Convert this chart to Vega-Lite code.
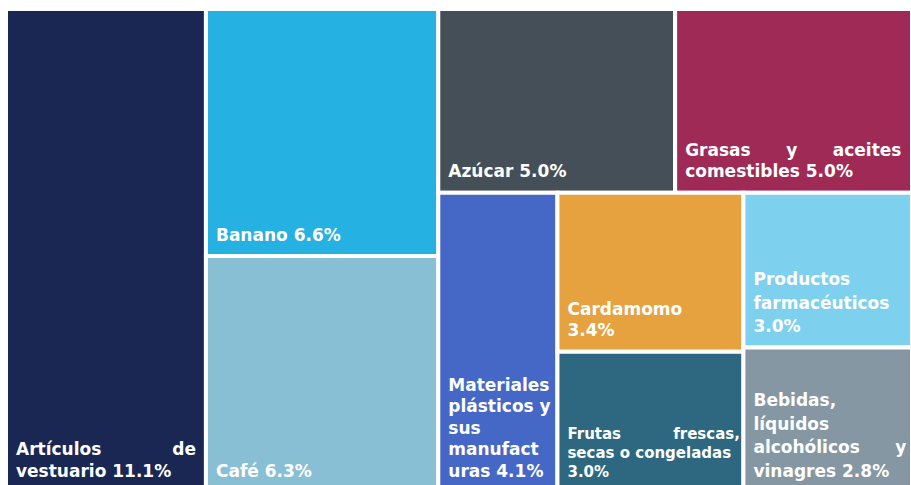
{
  "$schema": "https://vega.github.io/schema/vega-lite/v6.json",
  "width": 906,
  "height": 483,
  "autosize": {"type": "none"},
  "padding": {"left": 6, "top": 9, "right": 0, "bottom": 0},
  "background": "white",
  "config": {"view": {"stroke": null}, "text": {"align": "left", "baseline": "bottom", "dx": 10, "font": "DejaVu Sans", "fontWeight": "bold", "fontSize": 17, "lineHeight": 21.5, "lineBreak": "\n", "color": "white"}},
  "data": {
    "values": [
      {"name": "Artículos de vestuario", "label": "Artículos\u00a0\u00a0\u00a0\u00a0\u00a0\u00a0\u00a0\u00a0\u00a0\u00a0\u00a0\u00a0de\nvestuario 11.1%", "value": 11.1, "l1": 1, "l2": 1, "l3": 1, "l4": 1},
      {"name": "Banano", "label": "Banano 6.6%", "value": 6.6, "l1": 2, "l2": 1, "l3": 1, "l4": 1},
      {"name": "Café", "label": "Café 6.3%", "value": 6.3, "l1": 2, "l2": 2, "l3": 1, "l4": 1},
      {"name": "Azúcar", "label": "Azúcar 5.0%", "value": 5.0, "l1": 3, "l2": 1, "l3": 1, "l4": 1},
      {"name": "Grasas y aceites comestibles", "label": "Grasas\u00a0\u00a0\u00a0\u00a0\u00a0\u00a0y\u00a0\u00a0\u00a0\u00a0\u00a0\u00a0aceites\ncomestibles 5.0%", "value": 5.0, "l1": 3, "l2": 1, "l3": 2, "l4": 1},
      {"name": "Materiales plásticos y sus manufacturas", "label": "Materiales\nplásticos y\nsus\nmanufact\nuras 4.1%", "value": 4.1, "l1": 3, "l2": 2, "l3": 1, "l4": 1},
      {"name": "Cardamomo", "label": "Cardamomo\n3.4%", "value": 3.4, "l1": 3, "l2": 2, "l3": 2, "l4": 1},
      {"name": "Frutas frescas, secas o congeladas", "label": "Frutas\u00a0\u00a0\u00a0\u00a0\u00a0\u00a0\u00a0\u00a0\u00a0\u00a0frescas,\nsecas o congeladas\n3.0%", "value": 3.0, "l1": 3, "l2": 2, "l3": 2, "l4": 2},
      {"name": "Productos farmacéuticos", "label": "Productos\nfarmacéuticos\n3.0%", "value": 3.0, "l1": 3, "l2": 2, "l3": 3, "l4": 1},
      {"name": "Bebidas, líquidos alcohólicos y vinagres", "label": "Bebidas,\nlíquidos\nalcohólicos\u00a0\u00a0\u00a0\u00a0\u00a0\u00a0y\nvinagres 2.8%", "value": 2.8, "l1": 3, "l2": 2, "l3": 3, "l4": 2}
    ]
  },
  "transform": [
    {"joinaggregate": [{"op": "sum", "field": "value", "as": "s1"}], "groupby": ["l1"]},
    {"joinaggregate": [{"op": "sum", "field": "value", "as": "s2"}], "groupby": ["l1", "l2"]},
    {"joinaggregate": [{"op": "sum", "field": "value", "as": "s3"}], "groupby": ["l1", "l2", "l3"]},
    {"window": [{"op": "sum", "field": "value", "as": "c1"}], "sort": [{"field": "l1"}], "frame": [null, 0]},
    {"window": [{"op": "sum", "field": "value", "as": "c2"}], "groupby": ["l1"], "sort": [{"field": "l2"}], "frame": [null, 0]},
    {"window": [{"op": "sum", "field": "value", "as": "c3"}], "groupby": ["l1", "l2"], "sort": [{"field": "l3"}], "frame": [null, 0]},
    {"window": [{"op": "sum", "field": "value", "as": "c4"}], "groupby": ["l1", "l2", "l3"], "sort": [{"field": "l4"}], "frame": [null, 0]},
    {"calculate": "datum.c1 - datum.s1", "as": "gx0"},
    {"calculate": "(datum.c2 - datum.s2) / datum.s1", "as": "gy0"},
    {"calculate": "datum.c2 / datum.s1", "as": "gy1"},
    {"calculate": "datum.gx0 + (datum.c3 - datum.s3) / datum.s2 * datum.s1", "as": "x0"},
    {"calculate": "datum.gx0 + datum.c3 / datum.s2 * datum.s1", "as": "x1"},
    {"calculate": "datum.gy0 + (datum.c4 - datum.value) / datum.s3 * (datum.gy1 - datum.gy0)", "as": "y0"},
    {"calculate": "datum.gy0 + datum.c4 / datum.s3 * (datum.gy1 - datum.gy0)", "as": "y1"},
    {"calculate": "length(split(datum.label, '\\n'))", "as": "nl"}
  ],
  "encoding": {
    "x": {"field": "x0", "type": "quantitative", "axis": null, "scale": {"domain": [0, 50.3], "nice": false, "zero": true}},
    "y": {"field": "y1", "type": "quantitative", "axis": null, "scale": {"domain": [0, 1], "nice": false, "reverse": true}},
    "text": {"field": "label"}
  },
  "layer": [
    {
      "mark": {"type": "rect", "stroke": "white", "strokeWidth": 4},
      "encoding": {
        "x": {"field": "x0", "type": "quantitative"},
        "x2": {"field": "x1"},
        "y": {"field": "y0", "type": "quantitative"},
        "y2": {"field": "y1"},
        "text": null,
        "color": {
          "field": "name",
          "type": "nominal",
          "legend": null,
          "scale": {
            "domain": ["Artículos de vestuario", "Banano", "Café", "Azúcar", "Grasas y aceites comestibles", "Materiales plásticos y sus manufacturas", "Cardamomo", "Frutas frescas, secas o congeladas", "Productos farmacéuticos", "Bebidas, líquidos alcohólicos y vinagres"],
            "range": ["#1b2753", "#25b1e1", "#89bfd4", "#444f58", "#9e2a55", "#4567c6", "#e5a23f", "#2e6880", "#7dd0ee", "#8597a3"]
          }
        },
        "opacity": {"value": 1}
      }
    },
    {
      "transform": [{"filter": "datum.nl == 1"}],
      "mark": {"type": "text", "dy": -11.4}
    },
    {
      "transform": [{"filter": "datum.nl == 2"}],
      "mark": {"type": "text", "dy": -32.9}
    },
    {
      "transform": [{"filter": "datum.nl == 3 && datum.name != 'Frutas frescas, secas o congeladas'"}],
      "mark": {"type": "text", "dy": -58.4, "lineHeight": 23.5}
    },
    {
      "transform": [{"filter": "datum.nl == 4"}],
      "mark": {"type": "text", "dy": -81.9, "lineHeight": 23.5}
    },
    {
      "transform": [{"filter": "datum.nl == 5"}],
      "mark": {"type": "text", "dy": -97.4}
    },
    {
      "transform": [{"filter": "datum.name == 'Frutas frescas, secas o congeladas'"}],
      "mark": {"type": "text", "dy": -49.8, "fontSize": 15, "lineHeight": 19}
    }
  ]
}
